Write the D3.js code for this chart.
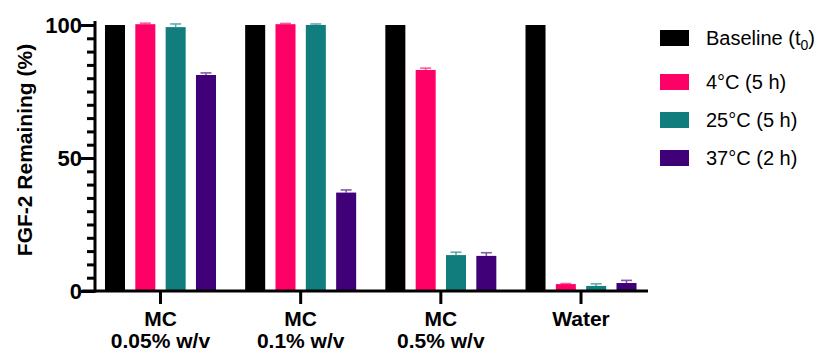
<!DOCTYPE html>
<html>
<head>
<meta charset="utf-8">
<script src="https://cdn.jsdelivr.net/npm/d3@7"></script>
<style>
  body { margin: 0; background: #fff; }
  svg { font-family: Arial, "Liberation Sans", sans-serif; }
</style>
</head>
<body>
<script>
let w = 823;
let h = 352;

// data
let groups = ["MC|0.05% w/v", "MC|0.1% w/v", "MC|0.5% w/v", "Water"];
let seriesNames = ["Baseline", "4C", "25C", "37C"];
let baseline = [100, 100, 100, 100];
let cold = [100.3, 100.3, 83.1, 2.6];
let coldErr = [0.2, 0.1, 0.5, 0];
let room = [99.2, 100.0, 13.5, 1.9];
let roomErr = [1.0, 0.2, 0.9, 0.6];
let warm = [81.2, 37.0, 13.2, 3.0];
let warmErr = [0.6, 0.8, 1.0, 0.8];
let colors = ["#000000", "#ff0066", "#117e7d", "#400078"];
let legendLabels = ["Baseline (t", "4°C (5 h)", "25°C (5 h)", "37°C (2 h)"];
let yMajor = [0, 50, 100];

let values = [baseline, cold, room, warm];
let errors = [[0, 0, 0, 0], coldErr, roomErr, warmErr];

let svg = d3.select("body")
            .append("svg")
            .attr("width", w)
            .attr("height", h);

let y = d3.scaleLinear().domain([0, 100]).range([291, 25]);
let x0 = d3.scaleBand().domain(groups).range([90.4, 651.1]).padding(0);
let bw0 = x0.bandwidth();
let x1 = d3.scaleBand().domain(seriesNames)
           .range([bw0 / 2 - 55.5, bw0 / 2 + 55.5])
           .paddingInner(0.34).paddingOuter(0);

// bars
let g = svg.selectAll("g.grp")
  .data(groups)
  .enter()
  .append("g")
    .attr("class", "grp")
    .attr("transform", d => "translate(" + x0(d) + ",0)");

g.selectAll("rect")
  .data((d, gi) => seriesNames.map((s, si) => ({s: s, si: si, v: values[si][gi], e: errors[si][gi]})))
  .enter()
  .append("rect")
    .attr("x", d => x1(d.s))
    .attr("y", d => y(d.v))
    .attr("width", x1.bandwidth())
    .attr("height", d => y(0) - y(d.v))
    .attr("fill", d => colors[d.si]);

// error bars (upper only)
let eb = g.selectAll("g.err")
  .data((d, gi) => seriesNames.map((s, si) => ({s: s, si: si, v: values[si][gi], e: errors[si][gi]})).filter(d => d.si > 0))
  .enter()
  .append("g")
    .attr("class", "err")
    .attr("stroke", d => colors[d.si])
    .attr("stroke-opacity", 0.65)
    .attr("stroke-width", 1.6);

eb.append("line")
  .attr("x1", d => x1(d.s) + x1.bandwidth() / 2)
  .attr("x2", d => x1(d.s) + x1.bandwidth() / 2)
  .attr("y1", d => y(d.v))
  .attr("y2", d => y(d.v + d.e));
eb.append("line")
  .attr("x1", d => x1(d.s) + x1.bandwidth() / 2 - 5.5)
  .attr("x2", d => x1(d.s) + x1.bandwidth() / 2 + 5.5)
  .attr("y1", d => y(d.v + d.e) - 0.5)
  .attr("y2", d => y(d.v + d.e) - 0.5);

// y axis
let yAxisX = 95;
let yMinorAxis = d3.axisLeft(y).tickValues(d3.range(0, 101, 5)).tickSize(8).tickFormat("");
let yMajorAxis = d3.axisLeft(y).tickValues(yMajor).tickSize(14).tickPadding(-1);

let ya = svg.append("g").attr("transform", "translate(" + yAxisX + ",0)");
ya.call(yMinorAxis);
ya.selectAll("path.domain").remove();
ya.selectAll("line").attr("stroke", "#000").attr("stroke-width", 3);

let yb = svg.append("g").attr("transform", "translate(" + yAxisX + ",0)");
yb.call(yMajorAxis);
yb.select("path.domain").remove();
yb.selectAll("line").attr("stroke", "#000").attr("stroke-width", 3);
yb.selectAll("text")
  .attr("font-size", 22)
  .attr("font-weight", "bold")
  .attr("fill", "#000")
  .attr("font-family", "Arial, 'Liberation Sans', sans-serif");

svg.append("line")
  .attr("x1", yAxisX).attr("x2", yAxisX)
  .attr("y1", y(100) - 4).attr("y2", y(0) + 1.5)
  .attr("stroke", "#000").attr("stroke-width", 3);

// x axis
let xa = svg.append("g").attr("transform", "translate(0," + y(0) + ")");
xa.call(d3.axisBottom(x0).tickSize(13).tickFormat(""));
xa.select("path.domain").remove();
xa.selectAll("line").attr("stroke", "#000").attr("stroke-width", 3);

svg.append("line")
  .attr("x1", 82).attr("x2", 648)
  .attr("y1", y(0)).attr("y2", y(0))
  .attr("stroke", "#000").attr("stroke-width", 3);

let xl = svg.selectAll("text.xlab")
  .data(groups)
  .enter()
  .append("text")
    .attr("class", "xlab")
    .attr("text-anchor", "middle")
    .attr("font-size", 21)
    .attr("font-weight", "bold")
    .attr("x", d => x0(d) + bw0 / 2);

xl.selectAll("tspan")
  .data(d => d.split("|"))
  .enter()
  .append("tspan")
    .attr("x", function() { return this.parentNode.getAttribute("x"); })
    .attr("y", (d, i) => 326 + i * 22)
    .text(d => d);

// y label
svg.append("text")
  .attr("transform", "translate(32,150) rotate(-90)")
  .attr("text-anchor", "middle")
  .attr("font-size", 21)
  .attr("font-weight", "bold")
  .text("FGF-2 Remaining (%)");

// legend
let legY = [38, 82, 120, 158];
let leg = svg.selectAll("g.leg")
  .data(legendLabels)
  .enter()
  .append("g")
    .attr("class", "leg")
    .attr("transform", (d, i) => "translate(660," + legY[i] + ")");

leg.append("rect")
  .attr("x", 0).attr("y", -8)
  .attr("width", 29).attr("height", 16)
  .attr("fill", (d, i) => colors[i]);

let lt = leg.append("text")
  .attr("x", 46)
  .attr("y", 7)
  .attr("font-size", 20)
  .text(d => d);

lt.filter((d, i) => i === 0)
  .each(function() {
    let t = d3.select(this);
    t.append("tspan").attr("font-size", 14).attr("dy", 5).text("0");
    t.append("tspan").attr("dy", -5).text(")");
  });
</script>
</body>
</html>
